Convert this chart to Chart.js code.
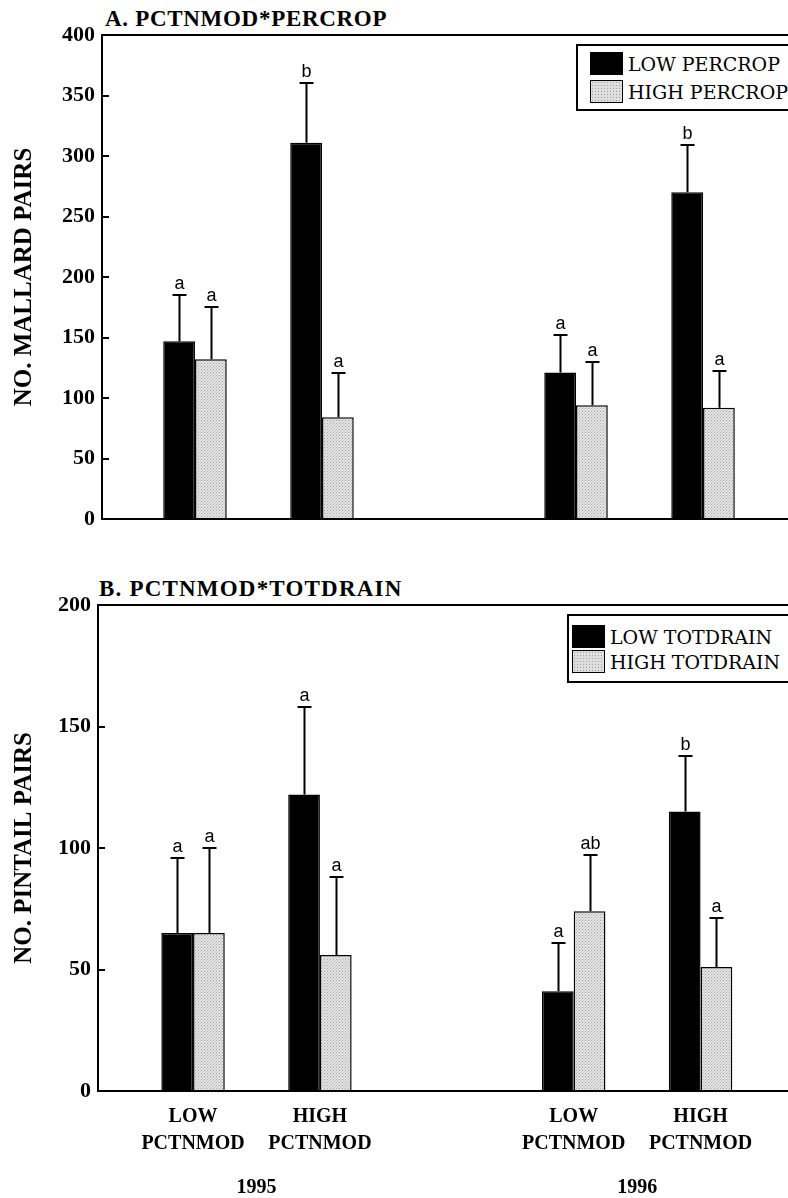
<!DOCTYPE html>
<html><head><meta charset="utf-8">
<script src="https://cdn.jsdelivr.net/npm/chart.js@4"></script>
<style>
html,body{margin:0;padding:0;background:#fff;}
body{width:788px;height:1198px;position:relative;overflow:hidden;}
canvas{position:absolute;left:0;}
#c1{top:0;}
#c2{top:560px;}
.ptitle{position:absolute;font:bold 23px 'Liberation Serif',serif;color:#000;white-space:nowrap;line-height:23px;letter-spacing:0.7px;}
#tA{left:105px;top:7px;}
#tB{left:99px;top:577px;letter-spacing:1.2px;}
.legend{position:absolute;border:2px solid #000;border-right:none;background:#fff;box-sizing:border-box;}
#legA{left:576px;top:44px;width:212px;height:67px;}
#legB{left:567px;top:614px;width:221px;height:69px;}
.item{position:absolute;display:flex;align-items:center;white-space:nowrap;font:19px 'DejaVu Serif',serif;color:#000;}
.sw{width:31px;height:21px;border:1px solid #000;margin-right:5px;flex:none;}
.grey{background-color:#dedede;background-image:radial-gradient(#a0a0a0 0.7px, transparent 0.9px);background-size:3px 3px;}
.black{background:#000;}
</style>
</head>
<body>
<div class="ptitle" id="tA">A. PCTNMOD*PERCROP</div>
<div class="ptitle" id="tB">B. PCTNMOD*TOTDRAIN</div>
<canvas id="c1" width="788" height="560"></canvas>
<canvas id="c2" width="788" height="638"></canvas>
<div class="legend" id="legA"></div>
<div class="legend" id="legB"></div>
<script>
// ---------- data ----------
const categories = [['LOW', 'PCTNMOD'], ['HIGH', 'PCTNMOD'], null, ['LOW', 'PCTNMOD'], ['HIGH', 'PCTNMOD']];
const categoryYear = ['1995', '1995', null, '1996', '1996'];
const years = ['1995', '1996'];

// Panel A: mallard pairs
const mallardLowPercrop = [147, 311, 121, 270];
const mallardLowPercropUpper = [185, 360, 152, 309];
const mallardLowPercropLetters = ['a', 'b', 'a', 'b'];
const mallardHighPercrop = [132, 84, 94, 92];
const mallardHighPercropUpper = [175, 121, 130, 122];
const mallardHighPercropLetters = ['a', 'a', 'a', 'a'];
const mallardMax = 400;

// Panel B: pintail pairs
const pintailLowTotdrain = [65, 122, 41, 115];
const pintailLowTotdrainUpper = [96, 158, 61, 138];
const pintailLowTotdrainLetters = ['a', 'a', 'a', 'b'];
const pintailHighTotdrain = [65, 56, 74, 51];
const pintailHighTotdrainUpper = [100, 88, 97, 71];
const pintailHighTotdrainLetters = ['a', 'a', 'ab', 'a'];
const pintailMax = 200;
const tickStep = 50;

// ---------- helpers ----------
const slots = categories.map((c, i) => c ? i : null).filter(v => v !== null);
const yearCenters = years.map(y => {
  const s = categories.map((c, i) => categoryYear[i] === y ? i : null).filter(v => v !== null);
  return s.reduce((a, b) => a + b, 0) / s.length;
});

function greyPattern(ctx) {
  const c = document.createElement('canvas'); c.width = 3; c.height = 3;
  const g = c.getContext('2d');
  g.fillStyle = '#e4e4e4'; g.fillRect(0, 0, 3, 3);
  g.fillStyle = '#a6a6a6'; g.fillRect(0, 0, 1, 1);
  g.fillStyle = '#c8c8c8'; g.fillRect(1, 2, 1, 1); g.fillRect(2, 1, 1, 1);
  return ctx.createPattern(c, 'repeat');
}

const errorBarPlugin = {
  id: 'errorBars',
  afterDatasetsDraw(chart) {
    const ctx = chart.ctx, y = chart.scales.y;
    ctx.save();
    chart.data.datasets.forEach((ds, di) => {
      const meta = chart.getDatasetMeta(di);
      meta.data.forEach((bar, i) => {
        const x = Math.round(bar.x) + 0.5;
        const yCap = Math.round(y.getPixelForValue(ds.upper[i]));
        ctx.strokeStyle = '#000'; ctx.lineWidth = 2;
        ctx.beginPath();
        ctx.moveTo(x, bar.y); ctx.lineTo(x, yCap);
        ctx.moveTo(x - 7, yCap); ctx.lineTo(x + 7, yCap);
        ctx.stroke();
        ctx.fillStyle = '#000';
        ctx.font = "18px 'Liberation Sans Narrow','Liberation Sans',sans-serif";
        ctx.textAlign = 'center'; ctx.textBaseline = 'alphabetic';
        ctx.fillText(ds.letters[i], x, yCap - 6);
      });
    });
    ctx.restore();
  },
  afterDraw(chart) {
    const ctx = chart.ctx, y = chart.scales.y, left = chart.chartArea.left;
    ctx.save();
    ctx.strokeStyle = '#000'; ctx.lineWidth = 2;
    y.ticks.forEach(t => {
      const py = Math.round(y.getPixelForValue(t.value));
      ctx.beginPath(); ctx.moveTo(left, py); ctx.lineTo(left + 7, py); ctx.stroke();
    });
    ctx.restore();
  }
};

function makeChart(canvasId, p) {
  const cv = document.getElementById(canvasId);
  const ctx = cv.getContext('2d');
  const pat = greyPattern(ctx);
  const toPts = arr => arr.map((v, i) => ({ x: slots[i], y: v }));
  const scales = {
    x: {
      type: 'linear', min: p.xMin, max: p.xMax, offset: false,
      grid: { display: false, drawTicks: false },
      border: { display: true, color: '#000', width: 2 },
      afterBuildTicks: s => { s.ticks = slots.map(v => ({ value: v })); },
      afterFit: s => { s.height = p.xHeight; },
      ticks: {
        display: p.showX, autoSkip: false, maxRotation: 0, padding: 12, color: '#000',
        font: { family: "'Liberation Serif',serif", weight: 'bold', size: 20, lineHeight: 1.35 },
        callback: v => categories[v] || ''
      }
    },
    y: {
      min: 0, max: p.yMax,
      afterFit: s => { s.width = p.leftWidth; },
      afterBuildTicks: s => { const t = []; for (let v = 0; v <= p.yMax; v += tickStep) t.push({ value: v }); s.ticks = t; },
      grid: { drawTicks: false, lineWidth: 2, color: c => (c.tick && c.tick.value === p.yMax) ? '#000' : 'rgba(0,0,0,0)' },
      border: { display: true, color: '#000', width: 2 },
      ticks: { padding: 7, color: '#000', font: { family: "'Liberation Serif',serif", weight: 'bold', size: 22 } },
      title: { display: true, text: p.yTitle, color: '#000', padding: { top: 10, bottom: 0 },
        font: { family: "'Liberation Serif',serif", weight: 'bold', size: 25 } }
    }
  };
  if (p.showX) {
    scales.x2 = {
      type: 'linear', position: 'bottom', min: p.xMin, max: p.xMax, offset: false, weight: 1,
      grid: { display: false, drawTicks: false }, border: { display: false },
      afterBuildTicks: s => { s.ticks = yearCenters.map(v => ({ value: v })); },
      afterFit: s => { s.height = p.x2Height; },
      ticks: { autoSkip: false, maxRotation: 0, padding: 15, color: '#000',
        font: { family: "'Liberation Serif',serif", weight: 'bold', size: 20 },
        callback: v => years[yearCenters.indexOf(v)] || '' }
    };
  }
  return new Chart(cv, {
    type: 'bar',
    data: {
      datasets: [
        { label: p.labels[0], data: toPts(p.low), upper: p.lowUpper, letters: p.lowLetters,
          backgroundColor: '#000', borderColor: '#000', borderWidth: 1.5 },
        { label: p.labels[1], data: toPts(p.high), upper: p.highUpper, letters: p.highLetters,
          backgroundColor: pat, borderColor: '#000', borderWidth: 1.5 }
      ]
    },
    options: {
      responsive: false, animation: false, devicePixelRatio: 1,
      categoryPercentage: 0.5, barPercentage: 1,
      layout: { padding: p.padding },
      plugins: { legend: { display: false }, tooltip: { enabled: false }, title: { display: false } },
      scales
    },
    plugins: [errorBarPlugin]
  });
}

const chartA = makeChart('c1', {
  labels: ['LOW PERCROP', 'HIGH PERCROP'],
  low: mallardLowPercrop, lowUpper: mallardLowPercropUpper, lowLetters: mallardLowPercropLetters,
  high: mallardHighPercrop, highUpper: mallardHighPercropUpper, highLetters: mallardHighPercropLetters,
  yMax: mallardMax, yTitle: 'NO. MALLARD PAIRS', leftWidth: 102,
  xMin: -0.732, xMax: 4.669, showX: false, xHeight: 0,
  padding: { top: 35, bottom: 41, left: 0, right: 0 }
});
const chartB = makeChart('c2', {
  labels: ['LOW TOTDRAIN', 'HIGH TOTDRAIN'],
  low: pintailLowTotdrain, lowUpper: pintailLowTotdrainUpper, lowLetters: pintailLowTotdrainLetters,
  high: pintailHighTotdrain, highUpper: pintailHighTotdrainUpper, highLetters: pintailHighTotdrainLetters,
  yMax: pintailMax, yTitle: 'NO. PINTAIL PAIRS', leftWidth: 98,
  xMin: -0.749, xMax: 4.689, showX: true, xHeight: 70, x2Height: 37,
  padding: { top: 45, bottom: 0, left: 0, right: 0 }
});

function buildLegend(id, chart, items) {
  const el = document.getElementById(id);
  chart.data.datasets.forEach((ds, i) => {
    const it = document.createElement('div');
    it.className = 'item';
    it.style.left = items[i].left + 'px';
    it.style.top = items[i].top + 'px';
    const sw = document.createElement('div');
    sw.className = 'sw ' + (i === 0 ? 'black' : 'grey');
    const tx = document.createElement('span');
    tx.textContent = ds.label;
    it.appendChild(sw); it.appendChild(tx);
    el.appendChild(it);
  });
}
buildLegend('legA', chartA, [{ left: 12, top: 6 }, { left: 12, top: 34 }]);
buildLegend('legB', chartB, [{ left: 3, top: 9 }, { left: 3, top: 34 }]);
</script>
</body></html>
